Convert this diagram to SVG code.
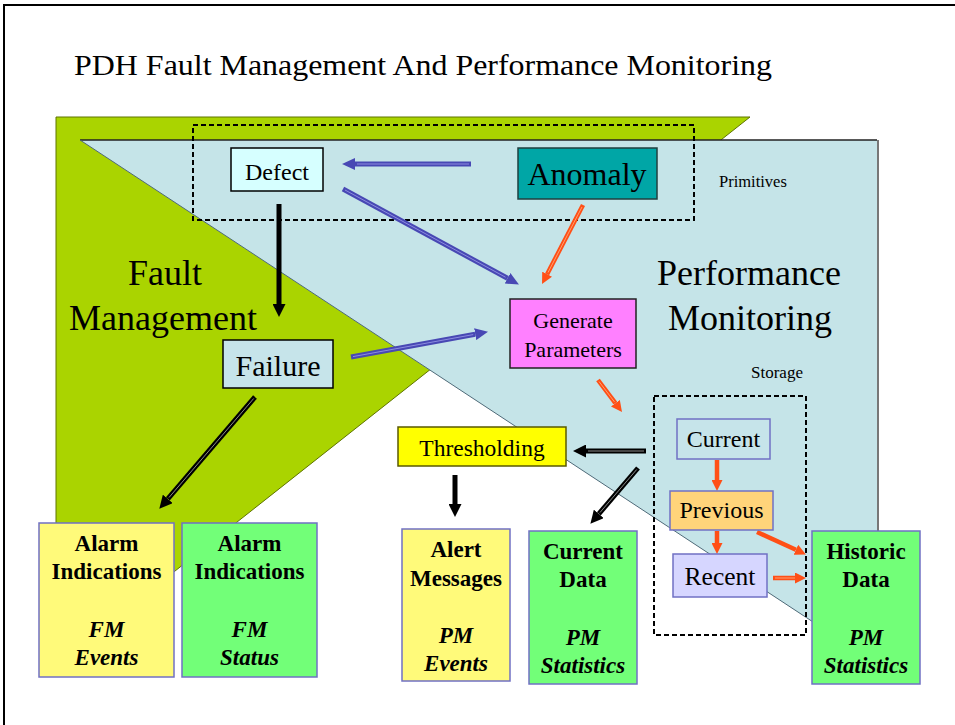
<svg xmlns="http://www.w3.org/2000/svg" width="955" height="725" viewBox="0 0 955 725">
  <style>
    text { font-family: "Liberation Serif", "Times New Roman", Times, Tinos, "DejaVu Serif", serif; fill: #000; }
    .c { text-anchor: middle; }
    .b { font-weight: bold; }
    .bi { font-weight: bold; font-style: italic; }
    .dash { fill: none; stroke: #000; stroke-width: 2; stroke-dasharray: 5 3; }
    .box { stroke-width: 1.5; }
    .rim { stroke: #7070c4; stroke-width: 1.5; }
    .blue { stroke: #4848b4; stroke-width: 5; fill: none; }
    .blue-in { stroke: #8c8ce0; stroke-width: 1; fill: none; }
    .blk { stroke: #000; stroke-width: 5; fill: none; }
    .blk-in { stroke: #8a8a8a; stroke-width: 1; fill: none; }
    .org { stroke: #ff4f16; stroke-width: 4.5; fill: none; }
    .org-in { stroke: #ffa070; stroke-width: 1; fill: none; }
  </style>
  <defs>
    <marker id="hBlue" markerUnits="userSpaceOnUse" markerWidth="13" markerHeight="12" refX="0" refY="6" orient="auto">
      <path d="M0,0 L13,6 L0,12 z" fill="#4848b4"/>
    </marker>
    <marker id="hBlk" markerUnits="userSpaceOnUse" markerWidth="13" markerHeight="13" refX="0" refY="6.5" orient="auto">
      <path d="M0,0 L13,6.5 L0,13 z" fill="#000"/>
    </marker>
    <marker id="hOrg" markerUnits="userSpaceOnUse" markerWidth="11" markerHeight="11" refX="0" refY="5.5" orient="auto">
      <path d="M0,0 L11,5.5 L0,11 z" fill="#ff4f16"/>
    </marker>
  </defs>

  <!-- page frame -->
  <rect width="955" height="725" fill="#fff"/>
  <path d="M4,725 L4,5 L955,5" fill="none" stroke="#000" stroke-width="2"/>

  <text x="74" y="75" font-size="29" textLength="698" lengthAdjust="spacingAndGlyphs">PDH Fault Management And Performance Monitoring</text>

  <!-- domain areas -->
  <g id="fault-area">
    <polygon points="56,117 750,117 56,665" fill="#aad400" stroke="#5f7400" stroke-width="1"/>
    <text class="c" x="165" y="285" font-size="36">Fault</text>
    <text class="c" x="163" y="330" font-size="36">Management</text>
  </g>
  <g id="performance-area">
    <polygon points="80,140 877,140 877,664" fill="#c5e4e8"/>
    <line x1="878" y1="140" x2="878" y2="664" stroke="#777" stroke-width="2"/>
    <line x1="80" y1="140" x2="877" y2="140" stroke="#222" stroke-width="1.5"/>
    <line x1="80" y1="140" x2="877" y2="664" stroke="#4f6a78" stroke-width="1"/>
    <text class="c" x="749" y="285" font-size="36">Performance</text>
    <text class="c" x="750" y="330" font-size="36">Monitoring</text>
  </g>

  <g id="primitives-group">
    <rect class="dash" x="193" y="125" width="501" height="95"/>
    <text x="719" y="187" font-size="16.5">Primitives</text>
  </g>
  <g id="storage-group">
    <rect class="dash" x="654" y="396" width="152" height="239"/>
    <text x="751" y="378" font-size="17">Storage</text>
  </g>

  <!-- connectors -->
  <g id="connectors">
    <!-- Anomaly to Defect -->
    <path class="blue" d="M471,164 L355,164" marker-end="url(#hBlue)"/>
    <path class="blue-in" d="M469,164 L357,164"/>
    <!-- Defect to Generate Parameters -->
    <path class="blue" d="M343,189 L507.5,278.3" marker-end="url(#hBlue)"/>
    <path class="blue-in" d="M345,190 L505.5,277.2"/>
    <!-- Failure to Generate Parameters -->
    <path class="blue" d="M351,357 L475.2,334.2" marker-end="url(#hBlue)"/>
    <path class="blue-in" d="M353,356.6 L473.2,334.6"/>
    <!-- Anomaly to Generate Parameters -->
    <path class="org" d="M583,205 L547.1,274.2" marker-end="url(#hOrg)"/>
    <path class="org-in" d="M582,207 L548,272.5"/>
    <!-- Defect to Failure -->
    <path class="blk" d="M279,204 L279,304" marker-end="url(#hBlk)"/>
    <!-- Failure to FM events -->
    <path class="blk" d="M255,397 L167.8,498.9" marker-end="url(#hBlk)"/>
    <path class="blk-in" d="M253.7,398.5 L169,497.5"/>
    <!-- Generate Parameters to Storage -->
    <path class="org" d="M598,380 L615.4,403.2" marker-end="url(#hOrg)"/>
    <path class="org-in" d="M599,381.5 L614.4,401.8"/>
    <!-- Storage to Thresholding -->
    <path class="blk" d="M646,451 L586,451" marker-end="url(#hBlk)"/>
    <path class="blk-in" d="M644,451 L588,451"/>
    <!-- Storage to Current Data -->
    <path class="blk" d="M638,468 L598.8,513.9" marker-end="url(#hBlk)"/>
    <path class="blk-in" d="M636.7,469.5 L600,512.5"/>
    <!-- Thresholding to Alert Messages -->
    <path class="blk" d="M455,475 L455,504" marker-end="url(#hBlk)"/>
    <!-- Current to Previous -->
    <path class="org" d="M717,460 L717,480" marker-end="url(#hOrg)"/>
    <!-- Previous to Recent -->
    <path class="org" d="M717,531 L717,543" marker-end="url(#hOrg)"/>
    <!-- Previous to Historic Data -->
    <path class="org" d="M757,532 L795.9,549.8" marker-end="url(#hOrg)"/>
    <!-- Recent to Historic Data -->
    <path class="org" d="M773,578 L795,578" marker-end="url(#hOrg)"/>
    <path class="org-in" d="M775,578 L795,578"/>
  </g>

  <!-- nodes -->
  <g id="defect">
    <rect class="box" x="231" y="148" width="92" height="43" fill="#d6ffff" stroke="#000"/>
    <text class="c" x="277" y="180" font-size="24">Defect</text>
  </g>
  <g id="anomaly">
    <rect class="box" x="518" y="148" width="139" height="51" fill="#00a6a6" stroke="#1f3f3f"/>
    <text class="c" x="587" y="185" font-size="32">Anomaly</text>
  </g>
  <g id="generate-parameters">
    <rect class="box" x="510" y="299" width="126" height="69" fill="#ff80ff" stroke="#222"/>
    <text class="c" x="573" y="328" font-size="22">Generate</text>
    <text class="c" x="573" y="357" font-size="22">Parameters</text>
  </g>
  <g id="failure">
    <rect class="box" x="223" y="340" width="110" height="48" fill="#c6e4ea" stroke="#000"/>
    <text class="c" x="278" y="376" font-size="30">Failure</text>
  </g>
  <g id="thresholding">
    <rect class="box" x="398" y="427" width="168" height="39" fill="#ffff00" stroke="#5a5a00"/>
    <text class="c" x="482" y="456" font-size="23.5">Thresholding</text>
  </g>
  <g id="current">
    <rect class="rim" x="677" y="419" width="93" height="40" fill="#c6e4ea"/>
    <text class="c" x="723.5" y="447" font-size="24">Current</text>
  </g>
  <g id="previous">
    <rect class="rim" x="670" y="491" width="103" height="39" fill="#ffd47a"/>
    <text class="c" x="721.5" y="518" font-size="24">Previous</text>
  </g>
  <g id="recent">
    <rect class="rim" x="673" y="554" width="94" height="43" fill="#d6d6ff"/>
    <text class="c" x="720" y="585" font-size="25.5">Recent</text>
  </g>

  <g id="fm-events">
    <rect class="rim" x="39" y="523" width="135" height="154" fill="#fffa7a"/>
    <text class="c b" x="106.5" y="551" font-size="23">Alarm</text>
    <text class="c b" x="106.5" y="579" font-size="23">Indications</text>
    <text class="c bi" x="106.5" y="637" font-size="23">FM</text>
    <text class="c bi" x="106.5" y="665" font-size="23">Events</text>
  </g>
  <g id="fm-status">
    <rect class="rim" x="182" y="523" width="135" height="154" fill="#72ff78"/>
    <text class="c b" x="249.5" y="551" font-size="23">Alarm</text>
    <text class="c b" x="249.5" y="579" font-size="23">Indications</text>
    <text class="c bi" x="249.5" y="637" font-size="23">FM</text>
    <text class="c bi" x="249.5" y="665" font-size="23">Status</text>
  </g>
  <g id="pm-events">
    <rect class="rim" x="402" y="529" width="108" height="152" fill="#fffa7a"/>
    <text class="c b" x="456" y="557" font-size="23">Alert</text>
    <text class="c b" x="456" y="586" font-size="23">Messages</text>
    <text class="c bi" x="456" y="643" font-size="23">PM</text>
    <text class="c bi" x="456" y="671" font-size="23">Events</text>
  </g>
  <g id="current-data">
    <rect class="rim" x="529" y="531" width="108" height="153" fill="#72ff78"/>
    <text class="c b" x="583" y="559" font-size="23">Current</text>
    <text class="c b" x="583" y="587" font-size="23">Data</text>
    <text class="c bi" x="583" y="645" font-size="23">PM</text>
    <text class="c bi" x="583" y="673" font-size="23">Statistics</text>
  </g>
  <g id="historic-data">
    <rect class="rim" x="812" y="531" width="108" height="153" fill="#72ff78"/>
    <text class="c b" x="866" y="559" font-size="23">Historic</text>
    <text class="c b" x="866" y="587" font-size="23">Data</text>
    <text class="c bi" x="866" y="645" font-size="23">PM</text>
    <text class="c bi" x="866" y="673" font-size="23">Statistics</text>
  </g>
</svg>
